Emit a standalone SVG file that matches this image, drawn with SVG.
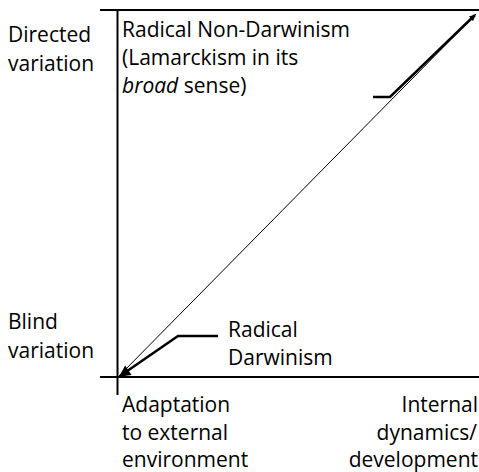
<svg xmlns="http://www.w3.org/2000/svg" width="479" height="472" viewBox="0 0 479 472">
<defs>
<style>
text{font-family:"Open Sans","Noto Sans",sans-serif;font-size:21px;fill:#000}
.ax{stroke:#000;stroke-width:2;fill:none}
.thin{stroke:#000;stroke-width:1;fill:none}
.lead{stroke:#000;stroke-width:2.5;fill:none}
.r{text-anchor:end}
</style>
<marker id="ah" viewBox="0 0 10 10" refX="9" refY="5" markerWidth="5" markerHeight="4.5" orient="auto" markerUnits="strokeWidth">
<path d="M0,0 L10,5 L0,10 z" fill="#000"/>
</marker>
<marker id="ahs" viewBox="0 0 10 10" refX="9" refY="5" markerWidth="2.5" markerHeight="2.5" orient="auto" markerUnits="strokeWidth">
<path d="M0,0 L10,5 L0,10 z" fill="#000"/>
</marker>
</defs>
<g id="axes">
<line class="ax" x1="100" y1="10" x2="479" y2="10"/>
<line class="ax" x1="117.5" y1="9" x2="117.5" y2="395"/>
<line class="ax" x1="100" y1="377" x2="479" y2="377"/>
</g>
<g id="connectors">
<line class="thin" x1="119" y1="376" x2="476" y2="14"/>
<polyline class="lead" points="373,97 390,97 475,15" marker-end="url(#ahs)"/>
<polyline class="lead" points="218,336 178,336 120,376" marker-end="url(#ah)"/>
</g>
<g id="y-top"><text x="8" y="42">Directed</text><text x="8" y="71">variation</text></g>
<g id="y-bottom"><text x="8" y="329">Blind</text><text x="8" y="358">variation</text></g>
<g id="non-darwinism"><text x="122" y="37">Radical Non-Darwinism</text><text x="122" y="65">(Lamarckism in its</text><text x="122" y="93"><tspan font-style="italic">broad</tspan> sense)</text></g>
<g id="darwinism"><text x="228" y="337">Radical</text><text x="228" y="365">Darwinism</text></g>
<g id="x-left"><text x="122" y="412">Adaptation</text><text x="122" y="440">to external</text><text x="122" y="467">environment</text></g>
<g id="x-right"><text class="r" x="478" y="412">Internal</text><text class="r" x="477" y="440">dynamics/</text><text class="r" x="478" y="467">development</text></g>
</svg>
